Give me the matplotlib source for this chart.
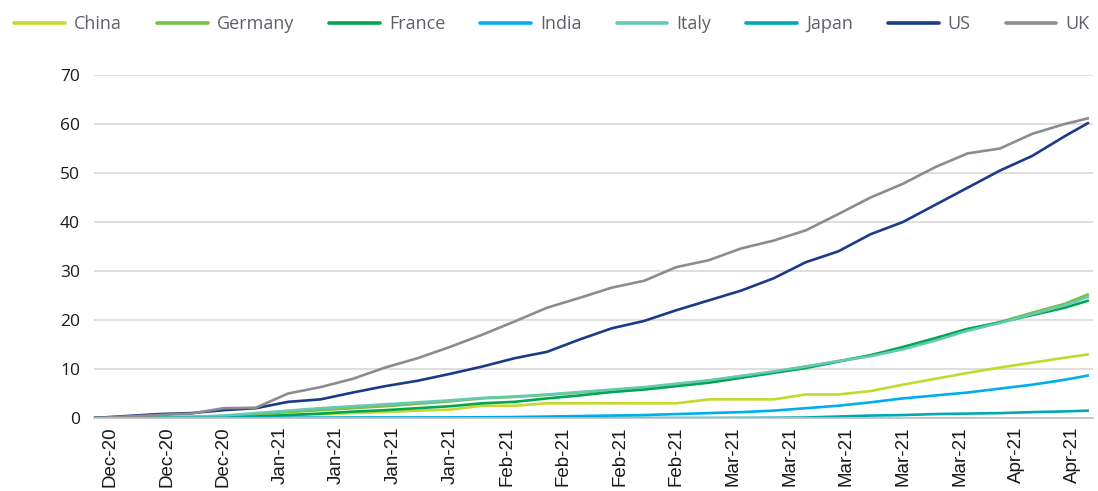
import matplotlib
matplotlib.use("Agg")
import matplotlib.pyplot as plt
import matplotlib.dates as mdates
import pandas as pd

# sample dates (every 4 days) + final point
dates = list(pd.date_range("2020-12-12", periods=31, freq="4D")) + [pd.Timestamp("2021-04-14")]

china = [0, 0, 0.1, 0.2, 0.3, 0.4, 0.6, 0.8, 1.0, 1.2, 1.5, 1.7, 2.5, 2.5, 3.0, 3.0,
         3.0, 3.0, 3.0, 3.8, 3.8, 3.8, 4.8, 4.8, 5.5, 6.8, 8.0, 9.2, 10.3, 11.3, 12.3, 13.0]
germany = [0, 0.05, 0.1, 0.2, 0.4, 0.8, 1.2, 1.6, 2.0, 2.4, 2.9, 3.4, 4.0, 4.3, 4.7, 5.2,
           5.7, 6.2, 6.9, 7.6, 8.5, 9.4, 10.5, 11.6, 12.8, 14.2, 16.0, 18.0, 19.6, 21.5, 23.3, 25.3]
france = [0, 0, 0, 0, 0.1, 0.3, 0.6, 0.9, 1.3, 1.6, 2.0, 2.4, 3.0, 3.3, 4.0, 4.6,
          5.3, 5.8, 6.5, 7.2, 8.2, 9.2, 10.2, 11.5, 12.8, 14.5, 16.3, 18.2, 19.5, 21.0, 22.5, 24.0]
india = [0, 0, 0, 0, 0.02, 0.05, 0.05, 0.05, 0.08, 0.1, 0.1, 0.12, 0.15, 0.2, 0.3, 0.4,
         0.5, 0.6, 0.8, 1.0, 1.2, 1.5, 2.0, 2.5, 3.2, 4.0, 4.6, 5.2, 6.0, 6.8, 7.8, 8.7]
italy = [0, 0.05, 0.1, 0.25, 0.5, 1.0, 1.5, 2.0, 2.4, 2.8, 3.2, 3.6, 4.1, 4.4, 4.8, 5.3,
         5.8, 6.3, 7.0, 7.7, 8.6, 9.5, 10.5, 11.6, 12.6, 14.0, 15.8, 17.8, 19.4, 21.2, 23.0, 24.8]
japan = [0, 0, 0, 0, 0, 0, 0, 0, 0, 0, 0, 0, 0, 0, 0, 0,
         0, 0, 0, 0, 0.02, 0.05, 0.1, 0.3, 0.5, 0.6, 0.8, 0.9, 1.0, 1.2, 1.35, 1.5]
us = [0, 0.4, 0.8, 1.0, 1.6, 2.0, 3.3, 3.8, 5.2, 6.5, 7.6, 9.0, 10.5, 12.2, 13.5, 16.0,
      18.3, 19.8, 22.0, 24.0, 26.0, 28.5, 31.8, 34.0, 37.5, 40.0, 43.5, 47.0, 50.5, 53.5, 57.5, 60.3]
uk = [0, 0.3, 0.6, 0.9, 2.0, 2.1, 5.0, 6.3, 8.0, 10.3, 12.2, 14.5, 17.0, 19.7, 22.5, 24.5,
      26.6, 28.0, 30.8, 32.2, 34.6, 36.2, 38.3, 41.6, 45.0, 47.8, 51.2, 54.0, 55.0, 58.0, 60.0, 61.2]

series = [
    ("China", china, "#c5d92d"),
    ("Germany", germany, "#7ac143"),
    ("France", france, "#00a651"),
    ("India", india, "#00aeef"),
    ("Italy", italy, "#66c9b5"),
    ("Japan", japan, "#00a7b5"),
    ("US", us, "#1b3a87"),
    ("UK", uk, "#8a8c8f"),
]

yticks = [0, 10, 20, 30, 40, 50, 60, 70]

fig = plt.figure(figsize=(10.98, 4.91), dpi=100)
ax = fig.add_axes([94 / 1098, 73 / 491, (1093 - 94) / 1098, 343 / 491])

for name, vals, col in series:
    ax.plot(dates, vals, color=col, lw=1.9, label=name, solid_capstyle="butt")

ax.set_ylim(0, 70)
ax.set_xlim(pd.Timestamp("2020-12-12"), pd.Timestamp("2021-04-14 12:00"))
ax.set_yticks(yticks)
ax.yaxis.grid(True, color="#d9d9d9", lw=1.2)
ax.set_axisbelow(True)
for s in ["top", "right", "left"]:
    ax.spines[s].set_visible(False)
ax.spines["bottom"].set_color("#bfbfbf")
ax.spines["bottom"].set_linewidth(1.2)

ax.xaxis.set_major_locator(mdates.WeekdayLocator(byweekday=mdates.MO, interval=1))
ax.xaxis.set_major_formatter(mdates.DateFormatter("%b-%y"))
ax.tick_params(axis="x", length=0, pad=6, labelrotation=90, labelsize=13.5, labelcolor="#1a1a1a")
ax.tick_params(axis="y", length=0, pad=10, labelsize=12.5, labelcolor="#1a1a1a")
for lab in ax.get_xticklabels():
    lab.set_fontfamily("Liberation Sans")
for lab in ax.get_yticklabels():
    lab.set_fontfamily("Open Sans")

leg = fig.legend(loc="center", bbox_to_anchor=(0.5 + 3 / 1098, 1 - 24 / 491), ncol=8, frameon=False,
                 prop={"family": "Open Sans", "size": 13}, handlelength=2.8,
                 handletextpad=0.5, columnspacing=1.95, borderaxespad=0)
for t in leg.get_texts():
    t.set_color("#5f6068")
for h in leg.get_lines():
    h.set_linewidth(2.6)
    h.set_solid_capstyle("round")

fig.savefig("out.png", dpi=100)
